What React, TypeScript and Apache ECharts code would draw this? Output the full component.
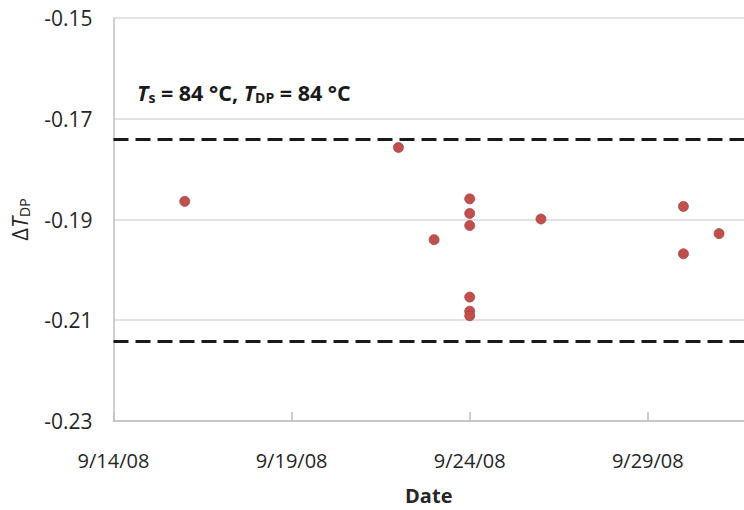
import React, { useEffect, useRef } from "react";
import * as echarts from "echarts";

const dates = [
  "2008-09-16",
  "2008-09-22",
  "2008-09-23",
  "2008-09-24",
  "2008-09-24",
  "2008-09-24",
  "2008-09-24",
  "2008-09-24",
  "2008-09-24",
  "2008-09-26",
  "2008-09-30",
  "2008-09-30",
  "2008-10-01",
];
const deltaTdp = [
  -0.1864, -0.1757, -0.194, -0.1859, -0.1888, -0.1912, -0.2054, -0.2082, -0.2091,
  -0.1899, -0.1874, -0.1968, -0.1928,
];
const limitLines = [-0.1741, -0.2141];
const yTicks = { min: -0.23, max: -0.15, interval: 0.02 };
const startDate = "2008-09-14";
const dayStep = 5;
const xMaxDays = 17.7;

const dayMs = 86400000;
const toDays = (s: string) =>
  (Date.parse(s + "T00:00:00Z") - Date.parse(startDate + "T00:00:00Z")) / dayMs;
const fmtDate = (d: number) => {
  const t = new Date(Date.parse(startDate + "T00:00:00Z") + Math.round(d) * dayMs);
  const yy = String(t.getUTCFullYear() % 100).padStart(2, "0");
  return `${t.getUTCMonth() + 1}/${t.getUTCDate()}/${yy}`;
};

export default function App() {
  const ref = useRef<HTMLDivElement>(null);
  useEffect(() => {
    if (!ref.current) return;
    const chart = echarts.init(ref.current, undefined, { renderer: "svg" });
    const font = "'Open Sans', sans-serif";
    const textColor = "#262626";
    chart.setOption({
      animation: false,
      backgroundColor: "#ffffff",
      textStyle: { fontFamily: font },
      grid: { left: 112, right: 0, top: 18, height: 408, containLabel: false },
      xAxis: {
        type: "value",
        min: 0,
        max: xMaxDays,
        interval: dayStep,
        name: "Date",
        nameLocation: "middle",
        nameGap: 64,
        nameTextStyle: { fontFamily: font, fontSize: 20, fontWeight: "bold", color: textColor },
        axisLine: { show: true, lineStyle: { color: "#bfbfbf", width: 1.5 } },
        axisTick: { show: true, inside: true, length: 9, lineStyle: { color: "#bfbfbf", width: 1.5 } },
        splitLine: { show: false },
        axisLabel: {
          showMaxLabel: false,
          margin: 29,
          fontFamily: font,
          fontSize: 20,
          color: textColor,
          formatter: (v: number) => fmtDate(v),
        },
      },
      yAxis: {
        type: "value",
        min: yTicks.min,
        max: yTicks.max,
        interval: yTicks.interval,
        name: "{d|Δ}{i|T}{s|DP}",
        nameLocation: "middle",
        nameGap: 82,
        nameRotate: 90,
        nameTextStyle: {
          color: textColor,
          rich: {
            d: { fontFamily: font, fontSize: 22, color: textColor },
            i: { fontFamily: font, fontSize: 22, fontStyle: "italic", color: textColor },
            s: { fontFamily: font, fontSize: 14, color: textColor, verticalAlign: "bottom", padding: [11, 0, 0, 0] },
          },
        },
        axisLine: { show: true, lineStyle: { color: "#bfbfbf", width: 1.5 } },
        axisTick: { show: false },
        splitLine: { show: true, lineStyle: { color: "#d9d9d9", width: 1.5 } },
        axisLabel: {
          margin: 21,
          fontFamily: font,
          fontSize: 21,
          color: textColor,
          formatter: (v: number) => v.toFixed(2),
        },
      },
      series: [
        {
          type: "scatter",
          data: dates.map((d, i) => [toDays(d), deltaTdp[i]]),
          symbol: "circle",
          symbolSize: 10,
          itemStyle: { color: "#c0504d", borderColor: "#a94441", borderWidth: 0.8, opacity: 1 },
          markLine: {
            silent: true,
            precision: 4,
            symbol: ["none", "none"],
            label: { show: false },
            lineStyle: { color: "#1a1a1a", width: 2.8, type: [15, 7] },
            data: limitLines.map((v) => ({ yAxis: v })),
          },
        },
      ],
      graphic: [
        {
          type: "text",
          left: 137,
          top: 81,
          style: {
            text: "{i|T}{s|s}{n| = 84 °C, }{i|T}{s|DP}{n| = 84 °C}",
            rich: {
              i: { fontFamily: font, fontSize: 21.5, fontWeight: "bold", fontStyle: "italic", fill: "#1a1a1a" },
              n: { fontFamily: font, fontSize: 21.5, fontWeight: "bold", fill: "#1a1a1a" },
              s: { fontFamily: font, fontSize: 14, fontWeight: "bold", fill: "#1a1a1a", verticalAlign: "bottom", padding: [11, 0, 0, 0] },
            },
          },
        },
      ],
    });
    return () => chart.dispose();
  }, []);
  return (
    <div
      ref={ref}
      style={{ position: "absolute", left: 0, top: 0, width: 744, height: 510 }}
    />
  );
}
